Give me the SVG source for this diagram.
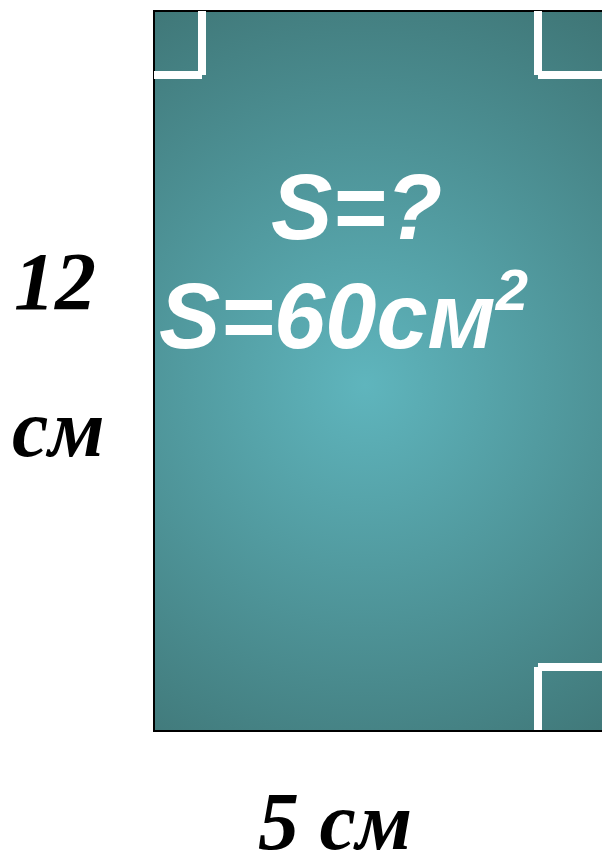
<svg xmlns="http://www.w3.org/2000/svg" width="602" height="858" viewBox="0 0 602 858">
<defs>
<radialGradient id="bg" gradientUnits="userSpaceOnUse" cx="365" cy="385" r="480">
<stop offset="0" stop-color="#5fb5bd"/>
<stop offset="1" stop-color="#3c7070"/>
</radialGradient>
</defs>
<style>
.corner{fill:#ffffff}
.lbl{font-family:"Liberation Serif",serif;font-weight:bold;font-style:italic;font-size:82px;fill:#000}
.main{font-family:"Liberation Sans",Arial,sans-serif;font-weight:bold;font-style:italic;font-size:92px;fill:#fff}
</style>
<rect width="602" height="858" fill="#ffffff"/>
<g id="rectangle">
<rect x="154" y="11" width="449" height="720" fill="url(#bg)" stroke="#000" stroke-width="2"/>
<g class="corner">
<rect x="198" y="11" width="8" height="64"/>
<rect x="154" y="71" width="48" height="8"/>
<rect x="534" y="11" width="8" height="64"/>
<rect x="538" y="71" width="64" height="8"/>
<rect x="538" y="663" width="64" height="8"/>
<rect x="534" y="667" width="8" height="63"/>
</g>
</g>
<g id="formula">
<text class="main" x="271" y="239">S=?</text>
<text class="main" x="159" y="348" font-size="97">S=60см<tspan font-size="58" dy="-38">2</tspan></text>
</g>
<g id="labels">
<text class="lbl" x="14" y="309">12</text>
<text class="lbl" x="12" y="456">см</text>
<text class="lbl" x="258" y="849">5 см</text>
</g>
</svg>
